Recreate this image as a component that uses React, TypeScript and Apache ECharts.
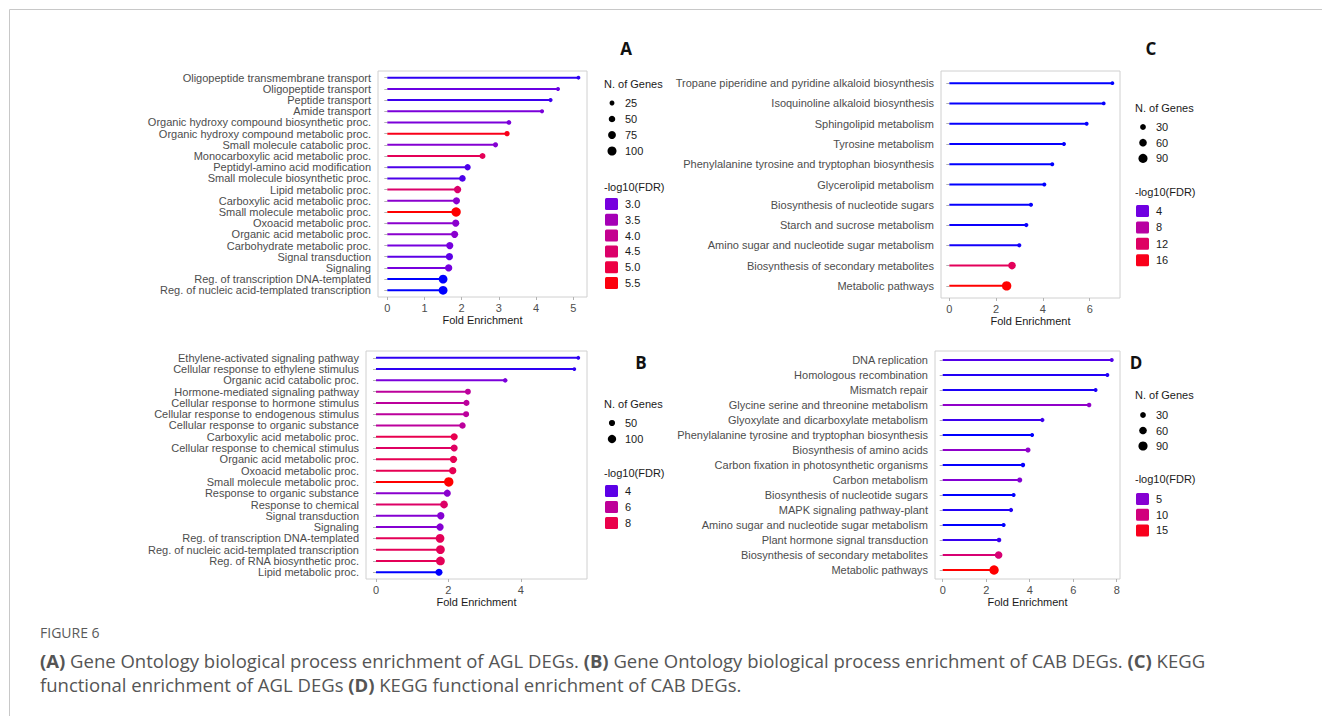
import React, { useEffect, useRef } from "react";
import * as echarts from "echarts";

// ---------- Panel A: GO BP, AGL DEGs ----------
const CAT_A = [
  "Oligopeptide transmembrane transport",
  "Oligopeptide transport",
  "Peptide transport",
  "Amide transport",
  "Organic hydroxy compound biosynthetic proc.",
  "Organic hydroxy compound metabolic proc.",
  "Small molecule catabolic proc.",
  "Monocarboxylic acid metabolic proc.",
  "Peptidyl-amino acid modification",
  "Small molecule biosynthetic proc.",
  "Lipid metabolic proc.",
  "Carboxylic acid metabolic proc.",
  "Small molecule metabolic proc.",
  "Oxoacid metabolic proc.",
  "Organic acid metabolic proc.",
  "Carbohydrate metabolic proc.",
  "Signal transduction",
  "Signaling",
  "Reg. of transcription DNA-templated",
  "Reg. of nucleic acid-templated transcription",
];
const FOLD_A = [5.14, 4.59, 4.39, 4.16, 3.27, 3.22, 2.91, 2.56, 2.16, 2.02, 1.89, 1.86, 1.85, 1.84, 1.81, 1.68, 1.67, 1.65, 1.5, 1.5];
const GENES_A = [12, 14, 15, 16, 22, 30, 28, 40, 45, 50, 65, 60, 110, 60, 60, 62, 62, 64, 95, 95];
const FDR_A = [2.75, 2.95, 2.8, 3.05, 3.05, 5.4, 3.15, 4.75, 2.85, 2.85, 4.5, 3.2, 5.6, 3.2, 3.2, 3.0, 2.9, 3.0, 2.6, 2.6];
const FDR_RANGE_A = [2.6, 5.6];
const SIZE_BREAKS_A = [25, 50, 75, 100];
const COLOR_BREAKS_A = [3.0, 3.5, 4.0, 4.5, 5.0, 5.5];
const COLOR_LABELS_A = ["3.0", "3.5", "4.0", "4.5", "5.0", "5.5"];
const XTICKS_A = [0, 1, 2, 3, 4, 5];

// ---------- Panel B: GO BP, CAB DEGs ----------
const CAT_B = [
  "Ethylene-activated signaling pathway",
  "Cellular response to ethylene stimulus",
  "Organic acid catabolic proc.",
  "Hormone-mediated signaling pathway",
  "Cellular response to hormone stimulus",
  "Cellular response to endogenous stimulus",
  "Cellular response to organic substance",
  "Carboxylic acid metabolic proc.",
  "Cellular response to chemical stimulus",
  "Organic acid metabolic proc.",
  "Oxoacid metabolic proc.",
  "Small molecule metabolic proc.",
  "Response to organic substance",
  "Response to chemical",
  "Signal transduction",
  "Signaling",
  "Reg. of transcription DNA-templated",
  "Reg. of nucleic acid-templated transcription",
  "Reg. of RNA biosynthetic proc.",
  "Lipid metabolic proc.",
];
const FOLD_B = [5.59, 5.48, 3.57, 2.54, 2.5, 2.49, 2.39, 2.16, 2.16, 2.14, 2.12, 2.01, 1.97, 1.88, 1.79, 1.77, 1.77, 1.78, 1.78, 1.74];
const GENES_B = [12, 12, 22, 45, 48, 48, 55, 70, 68, 75, 75, 130, 70, 85, 75, 75, 110, 112, 112, 70];
const FDR_B = [3.7, 3.7, 4.3, 5.9, 5.9, 5.9, 5.9, 7.9, 7.4, 7.8, 7.8, 9.4, 4.6, 7.3, 4.5, 4.5, 7.7, 7.7, 7.7, 3.4];
const FDR_RANGE_B = [3.4, 9.4];
const SIZE_BREAKS_B = [50, 100];
const COLOR_BREAKS_B = [4, 6, 8];
const COLOR_LABELS_B = ["4", "6", "8"];
const XTICKS_B = [0, 2, 4];

// ---------- Panel C: KEGG, AGL DEGs ----------
const CAT_C = [
  "Tropane piperidine and pyridine alkaloid biosynthesis",
  "Isoquinoline alkaloid biosynthesis",
  "Sphingolipid metabolism",
  "Tyrosine metabolism",
  "Phenylalanine tyrosine and tryptophan biosynthesis",
  "Glycerolipid metabolism",
  "Biosynthesis of nucleotide sugars",
  "Starch and sucrose metabolism",
  "Amino sugar and nucleotide sugar metabolism",
  "Biosynthesis of secondary metabolites",
  "Metabolic pathways",
];
const FOLD_C = [6.97, 6.6, 5.87, 4.9, 4.4, 4.06, 3.49, 3.29, 2.99, 2.68, 2.45];
const GENES_C = [6, 6, 7, 8, 8, 8, 9, 10, 10, 60, 98];
const FDR_C = [2.2, 2.3, 2.3, 2.3, 2.2, 2.2, 2.3, 2.4, 2.5, 12.6, 17.0];
const FDR_RANGE_C = [2.2, 17.0];
const SIZE_BREAKS_C = [30, 60, 90];
const COLOR_BREAKS_C = [4, 8, 12, 16];
const COLOR_LABELS_C = ["4", "8", "12", "16"];
const XTICKS_C = [0, 2, 4, 6];

// ---------- Panel D: KEGG, CAB DEGs ----------
const CAT_D = [
  "DNA replication",
  "Homologous recombination",
  "Mismatch repair",
  "Glycine serine and threonine metabolism",
  "Glyoxylate and dicarboxylate metabolism",
  "Phenylalanine tyrosine and tryptophan biosynthesis",
  "Biosynthesis of amino acids",
  "Carbon fixation in photosynthetic organisms",
  "Carbon metabolism",
  "Biosynthesis of nucleotide sugars",
  "MAPK signaling pathway-plant",
  "Amino sugar and nucleotide sugar metabolism",
  "Plant hormone signal transduction",
  "Biosynthesis of secondary metabolites",
  "Metabolic pathways",
];
const FOLD_D = [7.77, 7.57, 7.03, 6.73, 4.58, 4.11, 3.92, 3.69, 3.54, 3.26, 3.14, 2.8, 2.59, 2.57, 2.36];
const GENES_D = [10, 9, 8, 15, 12, 9, 22, 14, 22, 10, 12, 11, 15, 60, 95];
const FDR_D = [3.7, 3.0, 2.9, 5.5, 3.4, 2.5, 5.4, 2.6, 4.9, 2.5, 3.0, 2.5, 3.3, 10.6, 16.0];
const FDR_RANGE_D = [2.5, 16.0];
const SIZE_BREAKS_D = [30, 60, 90];
const COLOR_BREAKS_D = [5, 10, 15];
const COLOR_LABELS_D = ["5", "10", "15"];
const XTICKS_D = [0, 2, 4, 6, 8];

// ---------- Text ----------
const X_TITLE = "Fold Enrichment";
const SIZE_TITLE = "N. of Genes";
const COLOR_TITLE = "-log10(FDR)";
const FIG_LABEL = "FIGURE 6";
const CAPTION_1 =
  "{b|(A)} Gene Ontology biological process enrichment of AGL DEGs. {b|(B)} Gene Ontology biological process enrichment of CAB DEGs. {b|(C)} KEGG";
const CAPTION_2 = "functional enrichment of AGL DEGs {b|(D)} KEGG functional enrichment of CAB DEGs.";

// ---------- Style ----------
const STOPS = ["#0000FF", "#7300E0", "#9A00C2", "#B500A5", "#C90089", "#DA006C", "#E8004F", "#F40031", "#FF0000"];
const FONT = "Liberation Sans, Arial, sans-serif";
const CAP_FONT = "Open Sans, sans-serif";
const CAP_SIZE = 18.5;
const R_MIN = 1.9;
const R_MAX = 4.7;

const PANELS = [
  {
    letter: "A", cats: CAT_A, fold: FOLD_A, genes: GENES_A, fdr: FDR_A, fdrRange: FDR_RANGE_A,
    sizeBreaks: SIZE_BREAKS_A, colorBreaks: COLOR_BREAKS_A, colorLabels: COLOR_LABELS_A, xticks: XTICKS_A,
    grid: { left: 378, top: 71, width: 209, height: 226 }, xMin: -0.25, xMax: 5.37,
    letterPos: [626, 48],
    leg: { x: 604, sizeTitleY: 84, dotY: 103, dotStep: 16, colorTitleY: 187, sqY: 204, sqStep: 15.8 },
  },
  {
    letter: "B", cats: CAT_B, fold: FOLD_B, genes: GENES_B, fdr: FDR_B, fdrRange: FDR_RANGE_B,
    sizeBreaks: SIZE_BREAKS_B, colorBreaks: COLOR_BREAKS_B, colorLabels: COLOR_LABELS_B, xticks: XTICKS_B,
    grid: { left: 366, top: 351, width: 221, height: 228 }, xMin: -0.276, xMax: 5.83,
    letterPos: [641, 362],
    leg: { x: 604, sizeTitleY: 404, dotY: 423, dotStep: 16, colorTitleY: 473, sqY: 491, sqStep: 16 },
  },
  {
    letter: "C", cats: CAT_C, fold: FOLD_C, genes: GENES_C, fdr: FDR_C, fdrRange: FDR_RANGE_C,
    sizeBreaks: SIZE_BREAKS_C, colorBreaks: COLOR_BREAKS_C, colorLabels: COLOR_LABELS_C, xticks: XTICKS_C,
    grid: { left: 941, top: 71, width: 179, height: 227 }, xMin: -0.355, xMax: 7.295,
    letterPos: [1151, 48],
    leg: { x: 1135, sizeTitleY: 108, dotY: 127, dotStep: 15.7, colorTitleY: 192, sqY: 211, sqStep: 16.4 },
  },
  {
    letter: "D", cats: CAT_D, fold: FOLD_D, genes: GENES_D, fdr: FDR_D, fdrRange: FDR_RANGE_D,
    sizeBreaks: SIZE_BREAKS_D, colorBreaks: COLOR_BREAKS_D, colorLabels: COLOR_LABELS_D, xticks: XTICKS_D,
    grid: { left: 935, top: 351, width: 185, height: 228 }, xMin: -0.354, xMax: 8.15,
    letterPos: [1136, 362],
    leg: { x: 1135, sizeTitleY: 395, dotY: 415, dotStep: 15.5, colorTitleY: 479, sqY: 499, sqStep: 15.7 },
  },
];

function radiusFn(genes: number[]) {
  const gmin = Math.min(...genes);
  const gmax = Math.max(...genes);
  return (g: number) => {
    const t = Math.max(0, Math.min(1, (g - gmin) / (gmax - gmin)));
    return Math.sqrt(R_MIN * R_MIN + (R_MAX * R_MAX - R_MIN * R_MIN) * t);
  };
}

function buildOption() {
  const grid: any[] = [];
  const xAxis: any[] = [];
  const yAxis: any[] = [];
  const series: any[] = [];
  const visualMap: any[] = [];
  const graphic: any[] = [];

  PANELS.forEach((p, i) => {
    const rad = radiusFn(p.genes);
    grid.push({
      ...p.grid,
      show: true,
      borderColor: "#d0d0d0",
      borderWidth: 1,
      backgroundColor: "#ffffff",
      containLabel: false,
    });
    xAxis.push({
      type: "value",
      gridIndex: i,
      min: p.xMin,
      max: p.xMax,
      name: X_TITLE,
      nameLocation: "middle",
      nameGap: 17,
      nameTextStyle: { color: "#1a1a1a", fontSize: 11, fontFamily: FONT },
      axisLine: { show: false },
      splitLine: { show: false },
      axisTick: { show: true, length: 3, lineStyle: { color: "#b3b3b3" }, customValues: p.xticks },
      axisLabel: { color: "#4d4d4d", fontSize: 11, fontFamily: FONT, margin: 5, customValues: p.xticks },
    });
    const idx = p.cats.map((_, k) => k + 1);
    yAxis.push({
      type: "value",
      gridIndex: i,
      inverse: true,
      min: 0.4,
      max: p.cats.length + 0.6,
      axisLine: { show: false },
      splitLine: { show: false },
      axisTick: { show: true, length: 3, lineStyle: { color: "#b3b3b3" }, customValues: idx },
      axisLabel: {
        color: "#4d4d4d",
        fontSize: 11,
        fontFamily: FONT,
        margin: 7,
        customValues: idx,
        formatter: (v: number) => p.cats[Math.round(v) - 1] ?? "",
      },
    });
    const data = p.cats.map((c, k) => [p.fold[k], k + 1, p.genes[k], p.fdr[k], c]);
    series.push({
      type: "custom",
      xAxisIndex: i,
      yAxisIndex: i,
      encode: { x: 0, y: 1 },
      data,
      renderItem: (params: any, api: any) => {
        const x = api.value(0);
        const y = api.value(1);
        const g = api.value(2);
        const p0 = api.coord([0, y]);
        const p1 = api.coord([x, y]);
        const color = api.visual("color");
        return {
          type: "group",
          children: [
            { type: "line", shape: { x1: p0[0], y1: p0[1], x2: p1[0], y2: p1[1] }, style: { stroke: color, lineWidth: 2 } },
            { type: "circle", shape: { cx: p1[0], cy: p1[1], r: rad(g) }, style: { fill: color } },
          ],
        };
      },
    });
    visualMap.push({
      type: "continuous",
      show: false,
      seriesIndex: i,
      dimension: 3,
      min: p.fdrRange[0],
      max: p.fdrRange[1],
      inRange: { color: STOPS },
    });

    // panel letter
    graphic.push({
      type: "text",
      x: p.letterPos[0],
      y: p.letterPos[1],
      style: { text: p.letter, font: "bold 17px Open Sans, sans-serif", fill: "#111", align: "center", verticalAlign: "middle" },
    });
    // size legend
    const L = p.leg;
    graphic.push({
      type: "text", x: L.x, y: L.sizeTitleY,
      style: { text: SIZE_TITLE, font: `11px ${FONT}`, fill: "#1a1a1a", verticalAlign: "middle" },
    });
    p.sizeBreaks.forEach((b, k) => {
      const cy = L.dotY + k * L.dotStep;
      graphic.push({ type: "circle", shape: { cx: L.x + 8, cy, r: rad(b) }, style: { fill: "#000" } });
      graphic.push({
        type: "text", x: L.x + 21, y: cy,
        style: { text: String(b), font: `11px ${FONT}`, fill: "#1a1a1a", verticalAlign: "middle" },
      });
    });
    // color legend
    graphic.push({
      type: "text", x: L.x, y: L.colorTitleY,
      style: { text: COLOR_TITLE, font: `11px ${FONT}`, fill: "#1a1a1a", verticalAlign: "middle" },
    });
    p.colorBreaks.forEach((b, k) => {
      const cy = L.sqY + k * L.sqStep;
      const t = (b - p.fdrRange[0]) / (p.fdrRange[1] - p.fdrRange[0]);
      graphic.push({
        type: "rect", shape: { x: L.x + 1, y: cy - 6, width: 13, height: 12, r: 1.5 },
        style: { fill: echarts.color.lerp(Math.max(0, Math.min(1, t)), STOPS) },
      });
      graphic.push({
        type: "text", x: L.x + 21, y: cy,
        style: { text: p.colorLabels[k], font: `11px ${FONT}`, fill: "#1a1a1a", verticalAlign: "middle" },
      });
    });
  });

  // outer frame
  graphic.push({ type: "line", shape: { x1: 9.5, y1: 9.5, x2: 1322, y2: 9.5 }, style: { stroke: "#c8c8c8", lineWidth: 1 } });
  graphic.push({ type: "line", shape: { x1: 9.5, y1: 9.5, x2: 9.5, y2: 716 }, style: { stroke: "#c8c8c8", lineWidth: 1 } });

  // caption
  graphic.push({
    type: "text", x: 40, y: 632,
    style: { text: FIG_LABEL, font: `14px ${CAP_FONT}`, fill: "#5a5a5a", verticalAlign: "middle" },
  });
  const rich = { b: { fontWeight: "bold", fontSize: CAP_SIZE, fontFamily: CAP_FONT, fill: "#555" } };
  graphic.push({
    type: "text", x: 40, y: 660,
    style: { text: CAPTION_1, font: `${CAP_SIZE}px ${CAP_FONT}`, fill: "#555", verticalAlign: "middle", rich },
  });
  graphic.push({
    type: "text", x: 40, y: 684,
    style: { text: CAPTION_2, font: `${CAP_SIZE}px ${CAP_FONT}`, fill: "#555", verticalAlign: "middle", rich },
  });

  return {
    animation: false,
    backgroundColor: "#ffffff",
    grid,
    xAxis,
    yAxis,
    series,
    visualMap,
    graphic,
  };
}

export default function App() {
  const ref = useRef<HTMLDivElement>(null);
  useEffect(() => {
    document.body.style.margin = "0";
    if (!ref.current) return;
    const chart = echarts.init(ref.current, undefined, { renderer: "svg" });
    chart.setOption(buildOption() as any);
    return () => chart.dispose();
  }, []);
  return <div ref={ref} style={{ width: 1322, height: 716 }} />;
}
